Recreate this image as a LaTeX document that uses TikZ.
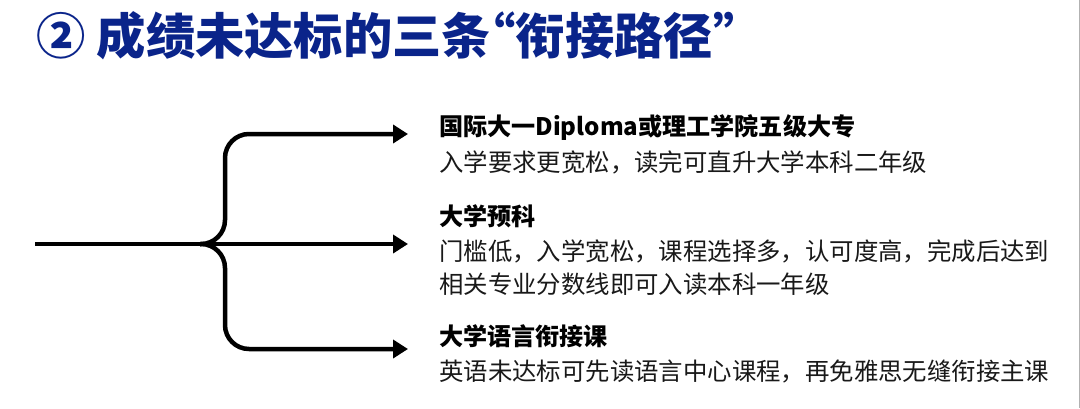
\documentclass[tikz,border=0pt]{standalone}
\usepackage{fontspec}
\setmainfont{Noto Sans CJK SC}
\usetikzlibrary{arrows.meta}
\definecolor{titleblue}{RGB}{10,36,138}
\definecolor{bodytext}{RGB}{25,25,25}
\newcommand{\halfq}[1]{{\addfontfeature{RawFeature=+halt}#1}}
\begin{document}
\begin{tikzpicture}[x=1pt,y=-1pt,
  conn/.style={line width=4.5pt,black,rounded corners=24pt,line cap=butt},
  arr/.style={-{Triangle[length=15pt,width=18pt]}},
  headtxt/.style={anchor=west,inner sep=0pt,font=\fontsize{24.1}{28}\selectfont\bfseries,text=black},
  bodytxt/.style={anchor=west,inner sep=0pt,font=\fontsize{24.4}{28}\selectfont,text=bodytext},
  titletxt/.style={anchor=west,inner sep=0pt,font=\fontsize{49.3}{54}\selectfont\bfseries,text=titleblue}]
\useasboundingbox (0,0) rectangle (1080,408);
\fill[white] (0,0) rectangle (1080,408);
\draw[gray!60,line width=1pt] (1079.5,0) -- (1079.5,408);
% title
\node[titletxt] (title) at (36,36) {② 成绩未达标的三条\halfq{“}衔接路径\halfq{”}};
% connectors
\coordinate (s) at (35,244);
\coordinate (b) at (200,244);
\coordinate (t1) at (408,134);
\coordinate (t2) at (408,244);
\coordinate (t3) at (408,349);
\draw[conn,arr] (s) -- (t2);
\draw[conn,arr] (b) -| (225,134) -- (t1);
\draw[conn,arr] (b) -| (225,349) -- (t3);
% texts
\node[headtxt] (h1) at (439,128) {国际大一Diploma或理工学院五级大专};
\node[bodytxt] (d1) at (439,162) {入学要求更宽松，读完可直升大学本科二年级};
\node[headtxt] (h2) at (439,216) {大学预科};
\node[bodytxt] (d2a) at (439,251) {门槛低，入学宽松，课程选择多，认可度高，完成后达到};
\node[bodytxt] (d2b) at (439,284) {相关专业分数线即可入读本科一年级};
\node[headtxt] (h3) at (439,336) {大学语言衔接课};
\node[bodytxt] (d3) at (439,372) {英语未达标可先读语言中心课程，再免雅思无缝衔接主课};
\end{tikzpicture}
\end{document}
